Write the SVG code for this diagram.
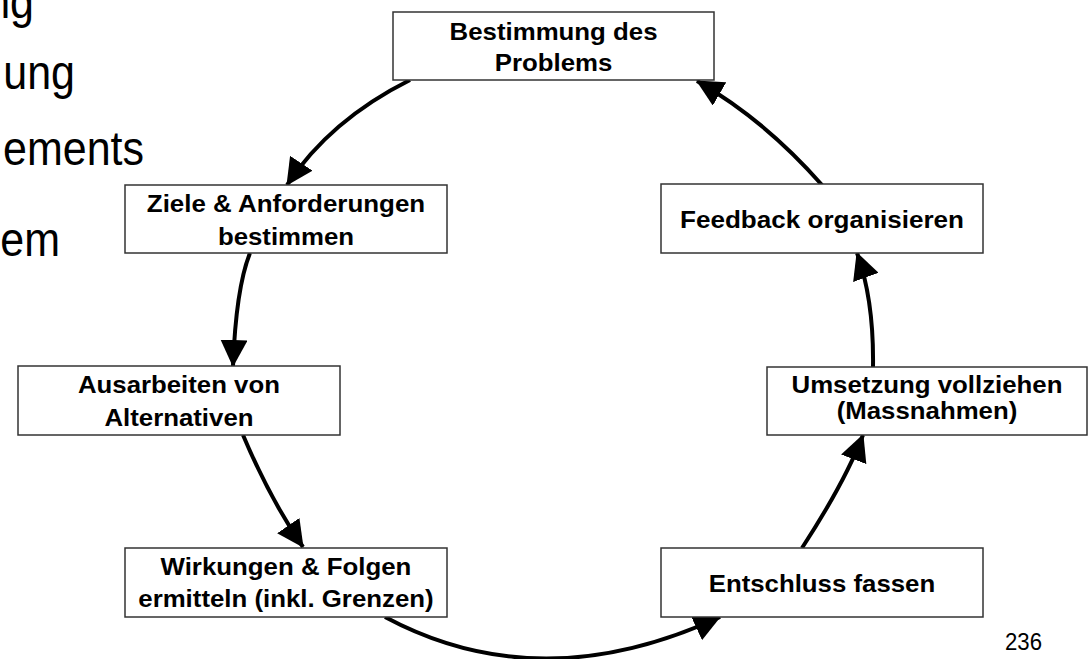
<svg xmlns="http://www.w3.org/2000/svg" width="1088" height="659" viewBox="0 0 1088 659">
<style>
.box{fill:#fff;stroke:#333;stroke-width:1.5}
.lbl{font-family:"Liberation Sans",Arial,sans-serif;font-weight:bold;font-size:24px;fill:#000}
.bg{font-family:"Liberation Sans",Arial,sans-serif;font-size:48px;fill:#000}
.con{fill:none;stroke:#000;stroke-width:4}
</style>
<defs>
<marker id="ah" markerUnits="userSpaceOnUse" markerWidth="27" markerHeight="27" viewBox="0 0 27 27" refX="26" refY="13.5" orient="auto">
<path d="M0,0 L27,13.5 L0,27 z" fill="#000"/>
</marker>
</defs>
<rect width="1088" height="659" fill="#fff"/>
<g id="background-text">
<text class="bg" x="-13.8" y="18" textLength="47.8" lengthAdjust="spacingAndGlyphs">ng</text>
<text class="bg" x="3.3" y="89" textLength="71.7" lengthAdjust="spacingAndGlyphs">ung</text>
<text class="bg" x="3" y="165" textLength="141" lengthAdjust="spacingAndGlyphs">ements</text>
<text class="bg" x="0.3" y="256" textLength="59.7" lengthAdjust="spacingAndGlyphs">em</text>
</g>
<g id="connectors">
<path class="con" d="M410,80 Q330,120 287,185" marker-end="url(#ah)"/>
<path class="con" d="M250,253 Q236,288 233,366" marker-end="url(#ah)"/>
<path class="con" d="M243,435 Q270,499 303,547" marker-end="url(#ah)"/>
<path class="con" d="M385,617 Q540,700 720,617" marker-end="url(#ah)"/>
<path class="con" d="M802,548 Q845,482 863,435" marker-end="url(#ah)"/>
<path class="con" d="M873,367 Q874,300 857,253" marker-end="url(#ah)"/>
<path class="con" d="M822,185 Q765,120 697,81" marker-end="url(#ah)"/>
</g>
<g id="node-problem">
<rect class="box" x="393" y="12" width="321" height="68"/>
<text class="lbl" x="449.6" y="40" textLength="207.9" lengthAdjust="spacingAndGlyphs">Bestimmung des</text>
<text class="lbl" x="494.7" y="71" textLength="117.6" lengthAdjust="spacingAndGlyphs">Problems</text>
</g>
<g id="node-ziele">
<rect class="box" x="125" y="185" width="322" height="68"/>
<text class="lbl" x="146.8" y="212" textLength="278.4" lengthAdjust="spacingAndGlyphs">Ziele &amp; Anforderungen</text>
<text class="lbl" x="217.9" y="245" textLength="136.2" lengthAdjust="spacingAndGlyphs">bestimmen</text>
</g>
<g id="node-alternativen">
<rect class="box" x="18" y="366" width="322" height="69"/>
<text class="lbl" x="78" y="393" textLength="201.9" lengthAdjust="spacingAndGlyphs">Ausarbeiten von</text>
<text class="lbl" x="104.4" y="426" textLength="149.1" lengthAdjust="spacingAndGlyphs">Alternativen</text>
</g>
<g id="node-wirkungen">
<rect class="box" x="125" y="548" width="322" height="69"/>
<text class="lbl" x="160.5" y="575" textLength="250.9" lengthAdjust="spacingAndGlyphs">Wirkungen &amp; Folgen</text>
<text class="lbl" x="138.3" y="607" textLength="295.3" lengthAdjust="spacingAndGlyphs">ermitteln (inkl. Grenzen)</text>
</g>
<g id="node-entschluss">
<rect class="box" x="661" y="548" width="322" height="69"/>
<text class="lbl" x="708.7" y="592" textLength="226.5" lengthAdjust="spacingAndGlyphs">Entschluss fassen</text>
</g>
<g id="node-umsetzung">
<rect class="box" x="767" y="367" width="320" height="68"/>
<text class="lbl" x="791.5" y="393" textLength="271" lengthAdjust="spacingAndGlyphs">Umsetzung vollziehen</text>
<text class="lbl" x="836.7" y="419" textLength="180.6" lengthAdjust="spacingAndGlyphs">(Massnahmen)</text>
</g>
<g id="node-feedback">
<rect class="box" x="661" y="184" width="322" height="69"/>
<text class="lbl" x="680" y="228" textLength="284" lengthAdjust="spacingAndGlyphs">Feedback organisieren</text>
</g>
<g id="page-number">
<text x="1005" y="650" font-family="'Liberation Sans',Arial,sans-serif" font-size="23" textLength="37" lengthAdjust="spacingAndGlyphs">236</text>
</g>
</svg>
